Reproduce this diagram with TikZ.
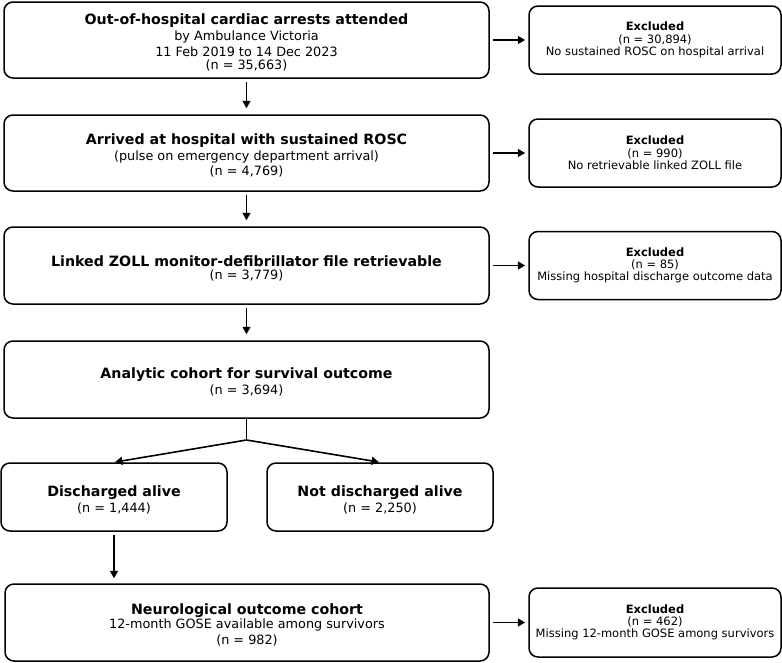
\documentclass[tikz,border=0pt]{standalone}
\usepackage{fontspec}
\setmainfont{DejaVu Sans}
\usetikzlibrary{arrows.meta}
\newcommand{\tightlines}{\lineskiplimit=-20pt\relax}
\tikzset{
  box/.style={draw, rounded corners=9pt, line width=1.5pt, align=center, inner sep=0pt,
    font={\fontsize{12.8}{16}\selectfont\tightlines}},
  exbox/.style={box, minimum width=252pt, minimum height=68pt,
    font={\fontsize{11.5}{12}\selectfont\tightlines}},
  arr/.style={line width=1.6pt, -{Triangle[length=7.5pt,width=8pt]}, shorten >=6pt, shorten <=3pt},
}
\newcommand{\ttl}[1]{{\fontsize{14.2}{16}\selectfont\bfseries\rule{0pt}{15.8pt}#1}}
\begin{document}
\begin{tikzpicture}[x=1pt,y=-1pt]
        \useasboundingbox (0,0) rectangle (782,662);

        \node[box, minimum width=485pt, minimum height=76pt] (arrests) at (246.5,40)
          {\ttl{Out-of-hospital cardiac arrests attended}\\
           by Ambulance Victoria\\[-0.3pt] 11 Feb 2019 to 14 Dec 2023\\[-3.5pt] (n = 35,663)};
        \node[box, minimum width=485pt, minimum height=76pt] (rosc) at (246.5,153)
          {\ttl{Arrived at hospital with sustained ROSC}\\
           (pulse on emergency department arrival)\\[-1pt] (n = 4,769)};
        \node[box, minimum width=485pt, minimum height=77pt] (zoll) at (246.5,265.5)
          {\ttl{Linked ZOLL monitor-defibrillator file retrievable}\\[-3pt]
           (n = 3,779)};
        \node[box, minimum width=485pt, minimum height=77pt] (cohort) at (246.5,379.5)
          {\ttl{Analytic cohort for survival outcome}\\[-0.5pt]
           (n = 3,694)};
        \node[box, minimum width=226pt, minimum height=68pt] (alive) at (114,497)
          {\ttl{Discharged alive}\\[0pt] (n = 1,444)};
        \node[box, minimum width=226pt, minimum height=68pt] (notalive) at (380,497)
          {\ttl{Not discharged alive}\\[0pt] (n = 2,250)};
        \node[box, minimum width=484pt, minimum height=77pt] (neuro) at (247,622.5)
          {\ttl{Neurological outcome cohort}\\[-1.3pt]
           12-month GOSE available among survivors\\[0pt] (n = 982)};

        \node[exbox] (ex1) at (655,40)
          {\textbf{Excluded}\\[0.3pt] (n = 30,894)\\[0.3pt] No sustained ROSC on hospital arrival};
        \node[exbox] (ex2) at (655,153)
          {\textbf{Excluded}\\[0.3pt] (n = 990)\\[0.3pt] No retrievable linked ZOLL file};
        \node[exbox] (ex3) at (655,265.5)
          {\textbf{Excluded}\\[0.3pt] (n = 85)\\[0.3pt] Missing hospital discharge outcome data};
        \node[exbox, minimum height=69pt] (ex4) at (655,622.5)
          {\textbf{Excluded}\\[0.3pt] (n = 462)\\[0.3pt] Missing 12-month GOSE among survivors};

        \coordinate (split) at (246.5,440);

        \draw[arr] (arrests) -- (rosc);
        \draw[arr] (rosc) -- (zoll);
        \draw[arr] (zoll) -- (cohort);
        \draw[line width=1.6pt] (cohort.south) -- (split);
        \draw[arr, shorten <=0pt, shorten >=1pt] (split) -- (alive.north);
        \draw[arr, shorten <=0pt, shorten >=1pt] (split) -- (notalive.north);
        \draw[arr, shorten >=5pt] (alive.south) -- (alive.south |- neuro.north);
        \draw[arr, shorten >=3pt] (arrests) -- (ex1);
        \draw[arr, shorten >=3pt] (rosc) -- (ex2);
        \draw[arr, shorten >=3pt] (zoll) -- (ex3);
        \draw[arr, shorten >=3pt] (neuro) -- (ex4);
\end{tikzpicture}
\end{document}
